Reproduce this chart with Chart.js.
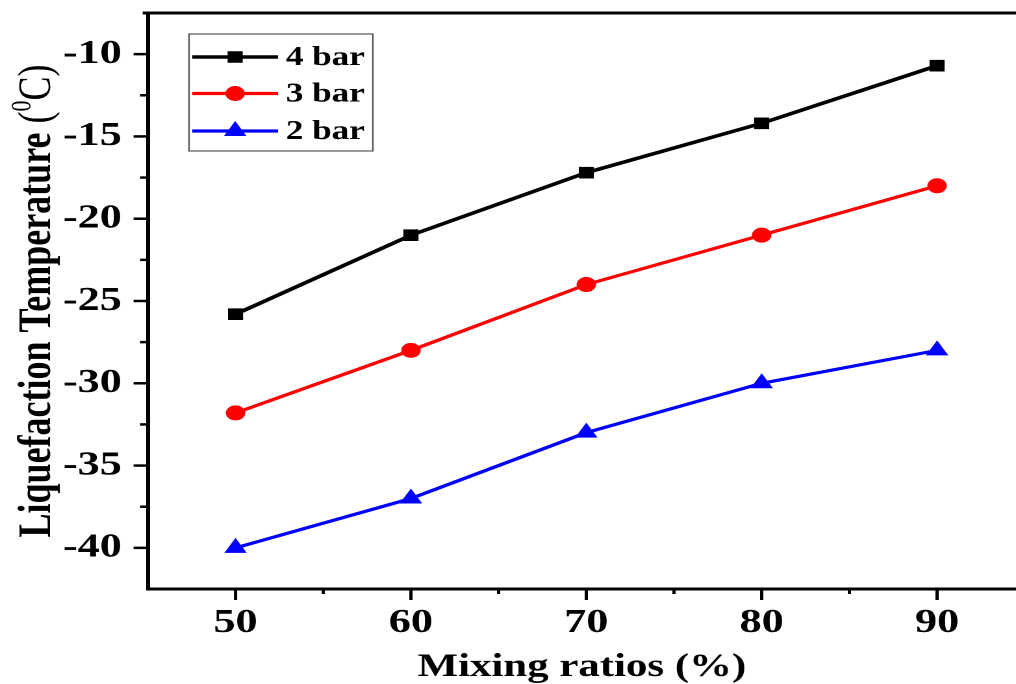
<!DOCTYPE html>
<html><head><meta charset="utf-8">
<script src="https://cdn.jsdelivr.net/npm/chart.js@4/dist/chart.umd.min.js"></script>
<style>
html,body{margin:0;padding:0;background:#fff;overflow:hidden;}
#wrap{width:1016px;height:684px;overflow:hidden;position:relative;background:#fff;}
#c{position:absolute;left:0;top:0;width:782px;height:684px;transform:scaleX(1.29923);transform-origin:0 0;}
</style></head><body>
<div id="wrap"><canvas id="c" width="782" height="684"></canvas></div>
<script>
// ---- data ----
const mixingRatios = [50, 60, 70, 80, 90];
const bar4 = [-25.8, -21.0, -17.2, -14.2, -10.7];
const bar3 = [-31.8, -28.0, -24.0, -21.0, -18.0];
const bar2 = [-40.0, -37.0, -33.0, -30.0, -28.0];
const seriesLabels = ['4 bar', '3 bar', '2 bar'];
const xMajorTicks = [50, 60, 70, 80, 90];
const xMinorTicks = [55, 65, 75, 85];
const yMajorTicks = [-40, -35, -30, -25, -20, -15, -10];
const yMinorTicks = [-37.5, -32.5, -27.5, -22.5, -17.5, -12.5];
const xTitle = 'Mixing ratios (%)';
const yTitleMain = 'Liquefaction Temperature ';
const yTitleUnit = ['(', '0', 'C)'];   // "(⁰C)" with superscript 0

const FONT = '"Liberation Serif", "Times New Roman", serif';
const toPts = arr => arr.map((v, i) => ({x: mixingRatios[i], y: v}));

const seriesStyles = [
  {color: '#000000', pointStyle: 'rect', radius: 7.5, width: 3.6},
  {color: '#ff0000', pointStyle: 'circle', radius: 7, width: 3.2},
  {color: '#0000ff', pointStyle: 'triangle', radius: 9, width: 3.2}
];
const seriesData = [bar4, bar3, bar2];

const datasets = seriesData.map((d, i) => ({
  label: seriesLabels[i],
  data: toPts(d),
  borderColor: seriesStyles[i].color,
  backgroundColor: seriesStyles[i].color,
  borderWidth: seriesStyles[i].width,
  pointStyle: seriesStyles[i].pointStyle,
  pointRadius: seriesStyles[i].radius,
  pointBorderWidth: 1,
  pointBackgroundColor: seriesStyles[i].color,
  pointBorderColor: seriesStyles[i].color,
  tension: 0,
  fill: false
}));

const zeroPad = s => { s.paddingTop = 0; s.paddingBottom = 0; s.paddingLeft = 0; s.paddingRight = 0; };

const axisDecor = {
  id: 'axisDecor',
  afterDraw(chart) {
    const ctx = chart.ctx, a = chart.chartArea;
    const xs = chart.scales.x, ys = chart.scales.y;
    ctx.save();
    ctx.strokeStyle = '#000';
    ctx.lineCap = 'butt';
    // top frame line
    ctx.lineWidth = 3;
    ctx.beginPath();
    ctx.moveTo(a.left - 4, a.top);
    ctx.lineTo(chart.width, a.top);
    ctx.stroke();
    // ticks
    ctx.lineWidth = 2.5;
    const tick = (x1, y1, x2, y2) => { ctx.beginPath(); ctx.moveTo(x1, y1); ctx.lineTo(x2, y2); ctx.stroke(); };
    xMajorTicks.forEach(v => { const p = xs.getPixelForValue(v); tick(p, a.bottom, p, a.bottom + 11); });
    xMinorTicks.forEach(v => { const p = xs.getPixelForValue(v); tick(p, a.bottom, p, a.bottom + 5); });
    yMajorTicks.forEach(v => { const p = ys.getPixelForValue(v); tick(a.left, p, a.left - 11, p); });
    yMinorTicks.forEach(v => { const p = ys.getPixelForValue(v); tick(a.left, p, a.left - 6, p); });

    // y-axis title, rotated, with superscript unit
    const size = 36;
    const parts = [
      {t: yTitleMain, f: 'bold ' + size + 'px ' + FONT, dy: 0},
      {t: yTitleUnit[0], f: size + 'px ' + FONT, dy: 0},
      {t: yTitleUnit[1], f: Math.round(size * 0.6) + 'px ' + FONT, dy: -size * 0.42},
      {t: yTitleUnit[2], f: size + 'px ' + FONT, dy: 0}
    ];
    let total = 0;
    parts.forEach(p => { ctx.font = p.f; p.w = ctx.measureText(p.t).width; total += p.w; });
    const yc = (a.top + a.bottom) / 2;
    ctx.translate(38.5, yc);
    ctx.rotate(-Math.PI / 2);
    ctx.fillStyle = '#000';
    ctx.textBaseline = 'alphabetic';
    ctx.textAlign = 'left';
    let x = -total / 2;
    parts.forEach(p => { ctx.font = p.f; ctx.fillText(p.t, x, p.dy); x += p.w; });
    ctx.restore();
  }
};

const boxLegend = {
  id: 'boxLegend',
  afterDraw(chart) {
    const ctx = chart.ctx;
    const box = {l: 145.5, t: 34, r: 287, b: 151};
    const rows = [57, 93.5, 131];
    ctx.save();
    ctx.strokeStyle = '#555';
    ctx.lineWidth = 1.2;
    ctx.strokeRect(box.l, box.t, box.r - box.l, box.b - box.t);
    chart.data.datasets.forEach((ds, i) => {
      const y = rows[i];
      ctx.strokeStyle = ds.borderColor;
      ctx.fillStyle = ds.backgroundColor;
      ctx.lineWidth = ds.borderWidth;
      ctx.beginPath(); ctx.moveTo(148, y); ctx.lineTo(214, y); ctx.stroke();
      ctx.lineWidth = 1;
      Chart.helpers.drawPoint(ctx, {pointStyle: ds.pointStyle, radius: ds.pointRadius, borderWidth: 1, rotation: 0}, 181, y);
      ctx.fillStyle = '#000';
      ctx.font = 'bold 27px ' + FONT;
      ctx.textBaseline = 'middle';
      ctx.textAlign = 'left';
      ctx.fillText(ds.label, 220, y + 1);
    });
    ctx.restore();
  }
};

new Chart(document.getElementById('c'), {
  type: 'line',
  data: {datasets},
  plugins: [axisDecor, boxLegend],
  options: {
    responsive: false,
    devicePixelRatio: 2,
    animation: false,
    layout: {autoPadding: false, padding: {top: 13, right: 0, left: 0, bottom: 0}},
    plugins: {legend: {display: false}, tooltip: {enabled: false}},
    scales: {
      x: {
        type: 'linear', min: 45, max: 94.5,
        afterBuildTicks: s => { s.ticks = xMajorTicks.map(v => ({value: v})); },
        afterFit: s => { s.height = 95; zeroPad(s); },
        grid: {display: true, drawOnChartArea: false, drawTicks: false},
        border: {display: true, color: '#000', width: 3},
        ticks: {color: '#000', padding: 17, maxRotation: 0, autoSkip: false,
          font: {family: FONT, size: 34, weight: 'bold', lineHeight: 1},
          callback: v => String(v)},
        title: {display: true, text: xTitle, color: '#000',
          font: {family: FONT, size: 33, weight: 'bold', lineHeight: 1},
          padding: {top: 0, bottom: 0}}
      },
      y: {
        type: 'linear', min: -42.5, max: -7.5,
        afterBuildTicks: s => { s.ticks = yMajorTicks.map(v => ({value: v})); },
        afterFit: s => { s.width = 113.8; zeroPad(s); },
        grid: {display: true, drawOnChartArea: false, drawTicks: false},
        border: {display: true, color: '#000', width: 3},
        ticks: {color: '#000', padding: 20, autoSkip: false,
          font: {family: FONT, size: 34, weight: 'bold', lineHeight: 1},
          callback: v => String(v)},
        title: {display: false}
      }
    }
  }
});
</script>
</body></html>
